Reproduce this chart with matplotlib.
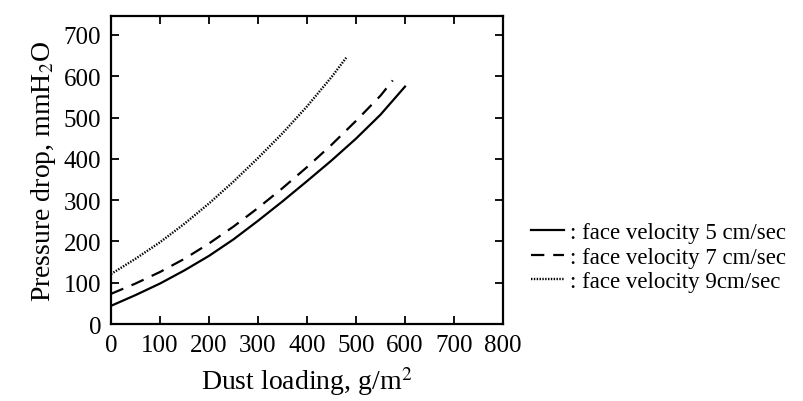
import matplotlib
matplotlib.use("Agg")
import matplotlib.pyplot as plt

# values
x_5 = [0, 50, 100, 150, 200, 250, 300, 350, 400, 450, 500, 550, 600]
dp_5 = [44, 70, 98, 130, 165, 205, 250, 297, 346, 396, 449, 507, 575]

x_7 = [0, 50, 100, 150, 200, 250, 300, 350, 400, 450, 500, 550, 575]
dp_7 = [73, 98, 126, 158, 195, 236, 281, 329, 380, 434, 492, 553, 590]

x_9 = [0, 50, 100, 150, 200, 250, 300, 350, 400, 450, 480]
dp_9 = [121, 158, 198, 243, 292, 345, 402, 462, 527, 598, 645]

labels = [": face velocity 5 cm/sec",
          ": face velocity 7 cm/sec",
          ": face velocity 9cm/sec"]

plt.rcParams["font.family"] = ["Liberation Serif", "DejaVu Serif"]
plt.rcParams["mathtext.fontset"] = "stix"

fig = plt.figure(figsize=(8.04, 4.02), dpi=100)
ax = fig.add_axes([111 / 804, 1 - 325 / 402, 392 / 804, 308 / 402])

ax.plot(x_5, dp_5, color="black", lw=1.6, ls="-", label=labels[0])
ax.plot(x_7, dp_7, color="black", lw=1.6, ls=(0, (6, 4)), label=labels[1])
ax.plot(x_9, dp_9, color="black", lw=1.7, ls=(0, (0.6, 0.6)), label=labels[2])

ax.set_xlim(0, 800)
ax.set_ylim(0, 746)
ax.set_xticks(range(0, 801, 100))
ax.set_yticks(range(0, 701, 100))
ax.tick_params(direction="in", length=6, width=1.3, labelsize=18,
               top=True, right=True, pad=7)
for s in ax.spines.values():
    s.set_linewidth(1.6)

ax.set_xlabel("Dust loading, g/m$^2$", fontsize=20, labelpad=6)
ax.set_ylabel("Pressure drop, mmH$_2$O", fontsize=20, labelpad=4)

fig.legend(loc="upper left", bbox_to_anchor=(520 / 804, 1 - 212 / 402),
           frameon=False, fontsize=16.5, handlelength=1.4, handletextpad=0.3,
           labelspacing=0.15, borderpad=0)

fig.savefig("out.png", dpi=100)
